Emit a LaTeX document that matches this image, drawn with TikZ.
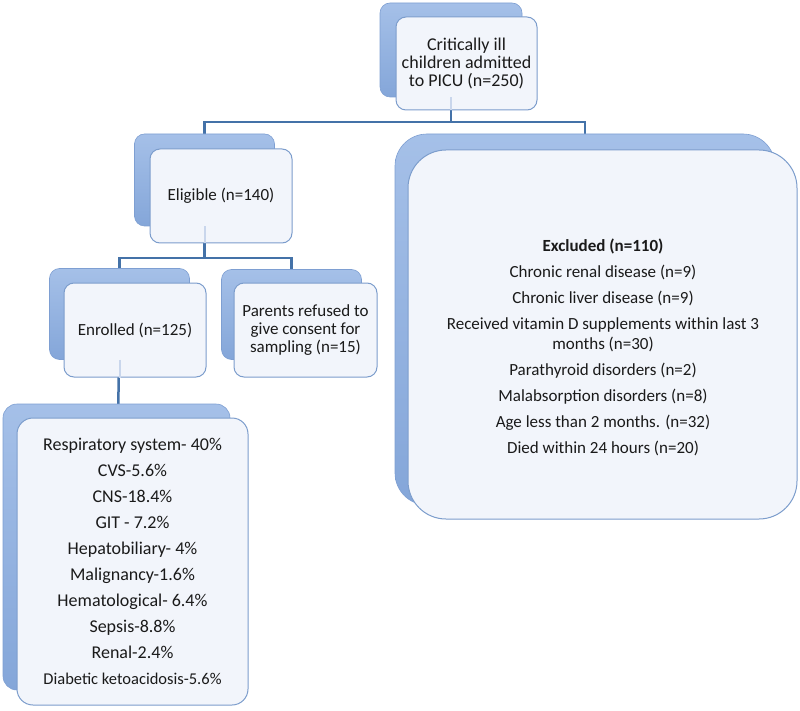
\documentclass[tikz,border=0pt]{standalone}
\usepackage{fontspec}
\setmainfont{Carlito}
\usetikzlibrary{calc}
\pgfdeclarelayer{bg}
\pgfsetlayers{bg,main}
\definecolor{backtop}{HTML}{A5C0E8}
\definecolor{backbot}{HTML}{84A6D9}
\definecolor{backedge}{HTML}{7E9FD2}
\definecolor{frontfill}{HTML}{F2F5FB}
\definecolor{frontedge}{HTML}{7C9DCC}
\definecolor{linecol}{HTML}{4472A8}
\definecolor{faintline}{HTML}{C9D6EC}
\definecolor{txt}{HTML}{1A1A1A}
\begin{document}
\begin{tikzpicture}[x=1pt,y=-1pt,
  backbox/.style={rounded corners=10pt, top color=backtop, bottom color=backbot, draw=backedge, line width=0.6pt, inner sep=0pt},
  frontbox/.style={draw=frontedge, line width=1pt, fill=frontfill, rounded corners=10pt, inner sep=0pt, align=center, text=txt, font=\fontsize{17}{18}\selectfont},
  conn/.style={draw=linecol, line width=2.5pt},
  faint/.style={draw=faintline, line width=2pt}]
\useasboundingbox (0,0) rectangle (800,711);
% top box
\node[backbox, minimum width=142pt, minimum height=94pt] (topB) at (451,50) {};
\node[frontbox, minimum width=141pt, minimum height=93pt, font=\fontsize{18}{18}\selectfont] (topF) at (466.5,63.5) {Critically ill\\children admitted\\to PICU (n=250)};
% eligible
\node[backbox, minimum width=140pt, minimum height=92pt] (eligB) at (204.5,180) {};
\node[frontbox, minimum width=142pt, minimum height=94pt] (eligF) at (221,196) {Eligible (n=140)};
% enrolled
\node[backbox, minimum width=140pt, minimum height=91pt] (enrB) at (119.5,314) {};
\node[frontbox, minimum width=142pt, minimum height=94pt] (enrF) at (135,330) {Enrolled (n=125)};
% parents
\node[backbox, minimum width=140pt, minimum height=90pt] (parB) at (291.5,314.5) {};
\node[frontbox, minimum width=143pt, minimum height=94pt] (parF) at (305.5,330) {Parents refused to\\give consent for\\sampling (n=15)};
% excluded
\node[backbox, rounded corners=32pt, minimum width=380pt, minimum height=371pt] (excB) at (585,319.5) {};
\node[frontbox, rounded corners=38pt, minimum width=389pt, minimum height=369pt] (excF) at (602.5,334.5) {};
\node[text=txt, align=center, font=\fontsize{17}{20}\selectfont] (excT) at (603,347)
 {\textbf{Excluded (n=110)}\\[6pt]
  Chronic renal disease (n=9)\\[6pt]
  Chronic liver disease (n=9)\\[6pt]
  Received vitamin D supplements within last 3\\
  months (n=30)\\[6pt]
  Parathyroid disorders (n=2)\\[6pt]
  Malabsorption disorders (n=8)\\[6pt]
  Age less than 2 months. (n=32)\\[6pt]
  Died within 24 hours (n=20)};
% list
\node[backbox, rounded corners=14pt, minimum width=227pt, minimum height=286pt] (lstB) at (116.5,547) {};
\node[frontbox, rounded corners=16pt, minimum width=231pt, minimum height=287pt, font=\fontsize{18}{26}\selectfont] (lstF) at (132.5,561.5)
 {Respiratory system- 40\%\\
  CVS-5.6\%\\
  CNS-18.4\%\\
  GIT - 7.2\%\\
  Hepatobiliary- 4\%\\
  Malignancy-1.6\%\\
  Hematological- 6.4\%\\
  Sepsis-8.8\%\\
  Renal-2.4\%\\
  {\fontsize{16.5}{26}\selectfont Diabetic ketoacidosis-5.6\%}};
% connectors
\coordinate (bus1) at (0,122);
\coordinate (bus2) at (0,258);
\begin{pgfonlayer}{bg}
\draw[conn] (topB.center) -- (topB.center |- bus1) -| (eligB.center);
\draw[conn] (topB.center |- bus1) -| (excB.center);
\draw[conn] (eligB.center) -- (eligB.center |- bus2) -| (enrB.center);
\draw[conn] (eligB.center |- bus2) -| (parB.center);
\draw[conn] (enrB.center) -- (lstB.center);
\end{pgfonlayer}
% faint traces of connectors seen through the front boxes
\draw[faint] (topB.south) -- (topB.center |- topF.south);
\draw[faint] (eligB.south) -- (eligB.center |- eligF.south);
\draw[faint] (enrB.south) -- (enrB.center |- enrF.south);
\end{tikzpicture}
\end{document}
